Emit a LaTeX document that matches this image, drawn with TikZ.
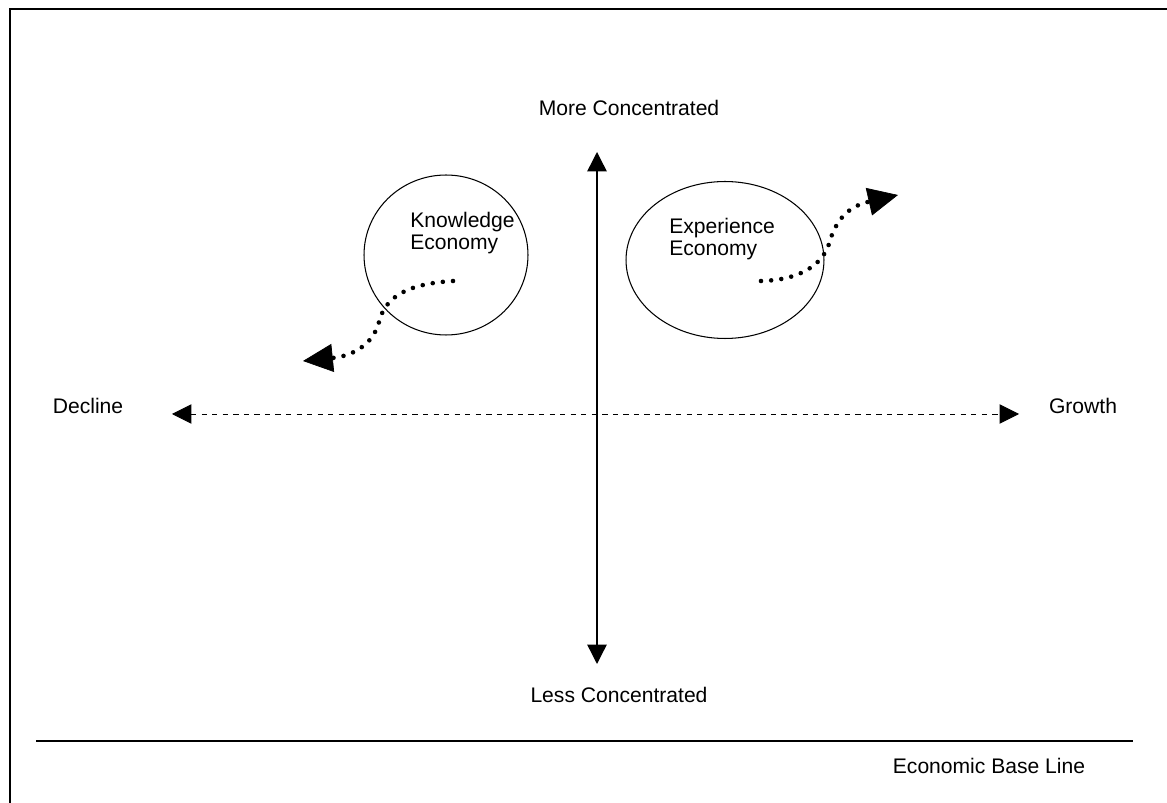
\documentclass[tikz,border=0pt]{standalone}
\usepackage{fontspec}
\setmainfont{Liberation Sans}
\usetikzlibrary{arrows.meta,shapes.geometric}

\tikzset{
  lbl/.style={font=\fontsize{12}{12.5}\selectfont, inner sep=0pt},
  axisarrow/.style={line width=0.8pt, {Triangle[length=11pt,width=11pt]}-{Triangle[length=11pt,width=11pt]}},
  econ/.style={draw, ellipse, line width=0.6pt, inner sep=0pt},
  drift/.style={line width=2.6pt, line cap=round, dash pattern=on 0pt off 5.8pt,
    -{Triangle[length=17pt,width=16pt,line width=0.4pt]}}
}

\begin{document}
\begin{tikzpicture}[x=0.02cm,y=-0.02cm]
  \useasboundingbox (0,0) rectangle (1167,803);
  % frame
  \draw[line width=1.2pt] (10,803) -- (10,9) -- (1167,9);

  % axes
  \coordinate (top) at (597,152);
  \coordinate (bottom) at (597,664);
  \coordinate (left) at (172,414);
  \coordinate (right) at (1019,414);
  \draw[axisarrow] (bottom) -- (top);
  \draw[axisarrow, dashed, line width=0.5pt] (left) -- (right);

  \node[lbl] (more) at (629,108) {More Concentrated};
  \node[lbl] (less) at (619,695) {Less Concentrated};
  \node[lbl] (decline) at (88,406) {Decline};
  \node[lbl] (growth) at (1083,406) {Growth};

  % the two economies
  \node[econ, minimum width=3.28cm, minimum height=3.2cm] (know) at (446,255) {};
  \node[econ, minimum width=3.96cm, minimum height=3.14cm] (exper) at (725,260) {};
  \node[lbl, align=left, anchor=north west] (knowtxt) at (410,212) {Knowledge\\Economy};
  \node[lbl, align=left, anchor=north west] (expertxt) at (669,218) {Experience\\Economy};

  % drifting out of the circles
  \coordinate (k0) at (453,281);
  \coordinate (k1) at (303,361);
  \draw[drift] (k0) .. controls (405,284) and (385,298) .. (379,322)
    .. controls (373,345) and (352,356) .. (k1);
  \coordinate (e0) at (761,281);
  \coordinate (e1) at (898,195);
  \draw[drift] (e0) .. controls (800,280) and (822,265) .. (829,244)
    .. controls (836,218) and (850,206) .. (e1);

  % base line
  \coordinate (b0) at (36,741);
  \coordinate (b1) at (1133,741);
  \draw[line width=1.1pt] (b0) -- (b1);
  \node[lbl] (base) at (989,766) {Economic Base Line};
\end{tikzpicture}
\end{document}
